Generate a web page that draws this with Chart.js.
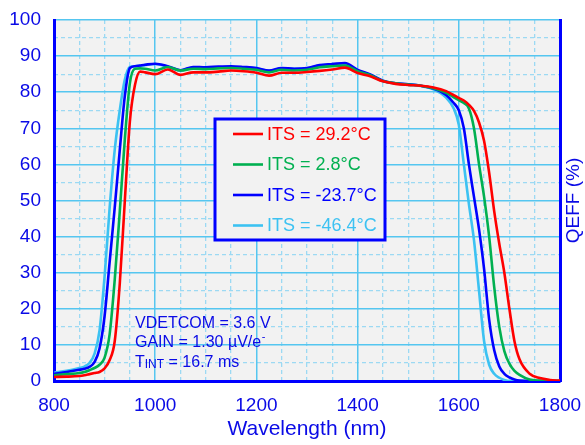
<!DOCTYPE html>
<html>
<head>
<meta charset="utf-8">
<script src="https://cdn.jsdelivr.net/npm/chart.js@4.4.1/dist/chart.umd.min.js"></script>
<style>
html,body{margin:0;padding:0;background:#fff;}
#wrap{width:585px;height:445px;position:relative;}
</style>
</head>
<body>
<div id="wrap"><canvas id="c" width="585" height="445"></canvas></div>
<script>
const wavelengths = [800,825,850,860,870,880,890,900,910,920,930,940,950,960,970,980,1000,1025,1050,1075,1100,1125,1150,1175,1200,1225,1250,1275,1300,1325,1350,1375,1400,1425,1450,1475,1500,1525,1550,1575,1590,1600,1610,1620,1630,1640,1650,1660,1670,1680,1690,1700,1710,1720,1740,1760,1780,1800];

const qeRed = [1.1,1.2,1.4,1.6,1.9,2.2,2.5,3.5,5.8,11,
  27,50,72,82,85.7,85.5,85.0,86.3,84.8,85.5,
  85.5,85.7,86,85.8,85.4,84.6,85.4,85.4,85.6,85.9,
  86.3,86.8,85.3,84.4,83,82.3,82,81.8,81.3,80.3,
  79.2,78.4,77.7,76.5,74.8,71.6,66.5,57.7,47,38,
  30,20,11,6,2,0.8,0.3,0.1];
const qeGreen = [1.6,1.9,2.2,2.5,3.0,3.6,4.5,6.5,13,28,
  47,67,82.5,86.5,86.6,86.5,86.0,87,86,86.5,
  86.4,86.6,86.7,86.5,86.2,85.5,86.2,86,86.2,86.9,
  87.2,87.4,85.8,84.7,83.1,82.5,82.1,81.8,81.1,79.8,
  78.6,77.8,77,75.5,70,60,51,40,26,15,
  8.3,4.8,2.8,1.7,0.4,0.1,0,0];
const qeBlue = [2.0,2.5,3.1,3.4,3.9,5.2,9,18,33,48,
  64,79,86.7,87.2,87.4,87.6,87.9,87.2,86.1,87,
  86.9,87.1,87.2,87,86.7,86,86.7,86.5,86.7,87.5,
  87.8,88.1,86.2,84.9,83.2,82.5,82.2,81.8,81,79.2,
  77,75,70,60,51,42,31,17,8.5,4,
  2,1,0.4,0.1,0,0,0,0];
const qeLightBlue = [2.3,2.8,3.6,4.0,5.0,7.5,14,29,48,64,
  75,83.5,87,87.2,87.3,87.5,87.8,87,86,86.8,
  86.7,86.9,87,86.9,86.6,85.9,86.6,86.5,86.6,87.4,
  87.6,87.8,86,84.8,83,82.4,82.1,81.7,80.8,78.5,
  75.5,71,60,49,39,25,11,4.5,2,0.9,
  0.3,0,0,0,0,0,0,0];

const seriesLabels = ['ITS = 29.2°C','ITS = 2.8°C','ITS = -23.7°C','ITS = -46.4°C'];
const seriesColors = ['#ff0000','#00b050','#0000ff','#3cc2f2'];
const xTickValues = [800,1000,1200,1400,1600,1800];
const yTickValues = [0,10,20,30,40,50,60,70,80,90,100];
const noteLines = ['VDETCOM = 3.6 V','GAIN = 1.30 µV/e','T','INT',' = 16.7 ms'];

const TXT = '#0a0ae6';
const MAJOR = '#55c6f0';
const MINOR = '#9cd9f3';
const FONT = "'Liberation Sans', Arial, sans-serif";

const allSeries = [qeRed, qeGreen, qeBlue, qeLightBlue];
const datasets = allSeries.map((arr, i) => ({
  label: seriesLabels[i],
  data: wavelengths.map((w, j) => ({x: w, y: arr[j]})),
  borderColor: seriesColors[i],
  backgroundColor: seriesColors[i],
  borderWidth: 2.6,
  pointRadius: 0,
  cubicInterpolationMode: 'monotone',
  fill: false,
  xAxisID: 'x',
  yAxisID: 'y'
}));

const bgPlugin = {
  id: 'bg',
  beforeDraw(chart) {
    const {ctx, chartArea: a} = chart;
    ctx.save();
    ctx.fillStyle = '#ffffff';
    ctx.fillRect(0, 0, chart.width, chart.height);
    ctx.fillStyle = '#f2f2f2';
    ctx.fillRect(a.left, a.top, a.right - a.left, a.bottom - a.top);
    ctx.restore();
  },
  afterDraw(chart) {
    const {ctx, chartArea: a} = chart;
    ctx.save();
    // legend box
    const lx = a.left + 161, ly = a.top + 99, lw = 170, lh = 121;
    ctx.fillStyle = '#f2f2f2';
    ctx.fillRect(lx, ly, lw, lh);
    ctx.strokeStyle = '#0000ff';
    ctx.lineWidth = 3;
    ctx.strokeRect(lx, ly, lw, lh);
    ctx.font = '18px ' + FONT;
    ctx.textBaseline = 'middle';
    ctx.textAlign = 'left';
    seriesLabels.forEach((lab, i) => {
      const yy = ly + 15 + i * 30.5;
      ctx.strokeStyle = seriesColors[i];
      ctx.lineWidth = 2.6;
      ctx.beginPath();
      ctx.moveTo(lx + 18, yy);
      ctx.lineTo(lx + 48, yy);
      ctx.stroke();
      ctx.fillStyle = seriesColors[i];
      ctx.fillText(lab, lx + 52, yy + 1);
    });
    // notes
    ctx.fillStyle = TXT;
    ctx.font = '16px ' + FONT;
    ctx.textBaseline = 'middle';
    const nx = a.left + 81;
    ctx.fillText(noteLines[0], nx, 324);
    ctx.fillText(noteLines[1], nx, 343);
    const gw = ctx.measureText(noteLines[1]).width;
    ctx.font = '11px ' + FONT;
    ctx.fillText('-', nx + gw + 0.5, 337);
    ctx.font = '16px ' + FONT;
    ctx.fillText(noteLines[2], nx, 363);
    let w1 = ctx.measureText(noteLines[2]).width;
    ctx.font = '12px ' + FONT;
    ctx.fillText(noteLines[3], nx + w1, 364.5);
    let w2 = ctx.measureText(noteLines[3]).width;
    ctx.font = '16px ' + FONT;
    ctx.fillText(noteLines[4], nx + w1 + w2, 363);
    // right axis title
    ctx.save();
    ctx.translate(574, (a.top + a.bottom) / 2);
    ctx.rotate(-Math.PI / 2);
    ctx.textAlign = 'center';
    ctx.textBaseline = 'middle';
    ctx.font = '19px ' + FONT;
    ctx.fillText('QEFF (%)', 0, 0);
    ctx.restore();
    ctx.restore();
  }
};

new Chart(document.getElementById('c'), {
  type: 'line',
  data: {datasets},
  plugins: [bgPlugin],
  options: {
    responsive: false,
    animation: false,
    layout: {padding: {top: 20, left: 0, right: 0, bottom: 0}},
    plugins: {legend: {display: false}, tooltip: {enabled: false}},
    scales: {
      xMinor: {
        type: 'linear', position: 'bottom', min: 800, max: 1800,
        afterFit(s) { s.height = 0; s.paddingLeft = 0; s.paddingRight = 0; },
        ticks: {display: false, stepSize: 50},
        grid: {drawTicks: false, lineWidth: 1.3,
          color: c => (c.tick && c.tick.value % 200 === 0) ? 'rgba(0,0,0,0)' : MINOR},
        border: {display: false, dash: [4, 3]}
      },
      yMinor: {
        type: 'linear', position: 'left', min: 0, max: 100,
        afterFit(s) { s.width = 0; s.paddingTop = 0; s.paddingBottom = 0; },
        ticks: {display: false, stepSize: 5},
        grid: {drawTicks: false, lineWidth: 1.3,
          color: c => (c.tick && c.tick.value % 10 === 0) ? 'rgba(0,0,0,0)' : MINOR},
        border: {display: false, dash: [4, 3]}
      },
      x: {
        type: 'linear', position: 'bottom', min: 800, max: 1800,
        afterFit(s) { s.height = 64; s.paddingLeft = 0; s.paddingRight = 0; },
        afterBuildTicks(s) { s.ticks = xTickValues.map(v => ({value: v})); },
        ticks: {color: TXT, font: {family: FONT, size: 19}, padding: 13, maxRotation: 0, autoSkip: false,
          callback: v => String(v)},
        grid: {color: MAJOR, lineWidth: 1.5, drawTicks: false},
        border: {display: true, color: '#0000ff', width: 3},
        title: {display: true, text: 'Wavelength (nm)', color: TXT, font: {family: FONT, size: 21}, padding: {top: 0, bottom: 3}}
      },
      y: {
        type: 'linear', position: 'left', min: 0, max: 100,
        afterFit(s) { s.width = 54; s.paddingTop = 0; s.paddingBottom = 0; },
        afterBuildTicks(s) { s.ticks = yTickValues.map(v => ({value: v})); },
        ticks: {color: TXT, font: {family: FONT, size: 19}, padding: 13, autoSkip: false,
          callback: v => String(v)},
        grid: {color: MAJOR, lineWidth: 1.5, drawTicks: false},
        border: {display: true, color: '#0000ff', width: 3}
      },
      y2: {
        type: 'linear', position: 'right', min: 0, max: 100,
        afterFit(s) { s.width = 25; s.paddingTop = 0; s.paddingBottom = 0; },
        ticks: {display: false},
        grid: {display: false, drawTicks: false},
        border: {display: true, color: '#0000ff', width: 3}
      }
    }
  }
});
</script>
</body>
</html>
